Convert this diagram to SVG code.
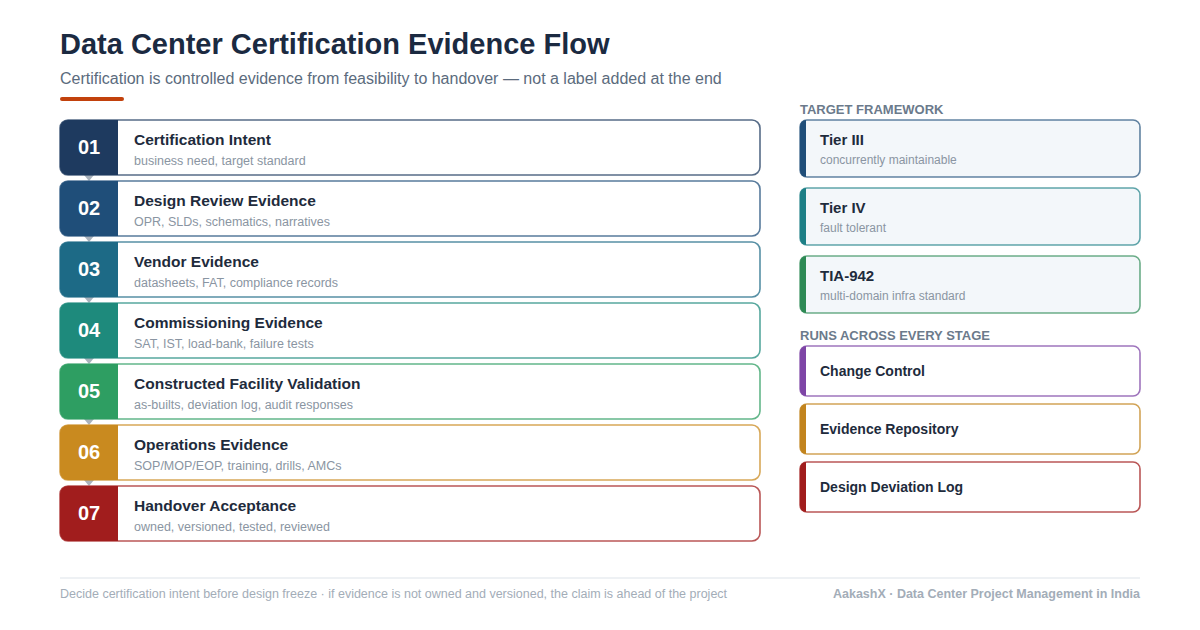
<svg xmlns="http://www.w3.org/2000/svg" width="1200" height="630" viewBox="0 0 1200 630">
<style>
.t{font-family:"Liberation Sans",Arial,sans-serif}
.title{font-size:29px;font-weight:700;fill:#1b2a41}
.sub{font-size:16px;fill:#5b6b7d}
.card{fill:#fff;stroke-width:1.6}
.num{font-size:20px;font-weight:700;fill:#fff;text-anchor:middle}
.h{font-size:15.5px;font-weight:700;fill:#1e2b3c}
.hr{font-size:15px;font-weight:700;fill:#1e2b3c}
.hs{font-size:14px;font-weight:700;fill:#1e2b3c}
.d{font-size:12.5px;fill:#8a95a2}
.dr{font-size:12px;fill:#8a95a2}
.sec{font-size:13px;font-weight:700;fill:#6b7a8b}
.rc{fill:#f3f7fa;stroke-width:1.6}
.rw{fill:#fff;stroke-width:1.6}
.foot{font-size:12.5px;fill:#a3adb8}
.footb{font-size:12.5px;font-weight:700;fill:#a3adb8}
.tri{fill:#a9b2bc}
</style>
<rect width="1200" height="630" fill="#fff"/>
<text class="t title" x="60" y="54">Data Center Certification Evidence Flow</text>
<text class="t sub" x="60" y="84">Certification is controlled evidence from feasibility to handover — not a label added at the end</text>
<rect x="60" y="97" width="64" height="4" rx="2" fill="#c2410c"/>

<g id="connectors">
<path class="tri" d="M84 175 L94 175 L89 181 Z"/>
<path class="tri" d="M84 236 L94 236 L89 242 Z"/>
<path class="tri" d="M84 297 L94 297 L89 303 Z"/>
<path class="tri" d="M84 358 L94 358 L89 364 Z"/>
<path class="tri" d="M84 419 L94 419 L89 425 Z"/>
<path class="tri" d="M84 480 L94 480 L89 486 Z"/>
</g>

<g id="step1">
<rect class="card" x="60" y="120" width="700" height="55" rx="8" stroke="#1e3a5f" stroke-opacity="0.75"/>
<path d="M68 120 H118 V175 H68 A8 8 0 0 1 60 167 V128 A8 8 0 0 1 68 120 Z" fill="#1e3a5f"/>
<text class="t num" x="89" y="154">01</text>
<text class="t h" x="134" y="145">Certification Intent</text>
<text class="t d" x="134" y="165">business need, target standard</text>
</g>
<g id="step2">
<rect class="card" x="60" y="181" width="700" height="55" rx="8" stroke="#1f4e79" stroke-opacity="0.75"/>
<path d="M68 181 H118 V236 H68 A8 8 0 0 1 60 228 V189 A8 8 0 0 1 68 181 Z" fill="#1f4e79"/>
<text class="t num" x="89" y="215">02</text>
<text class="t h" x="134" y="206">Design Review Evidence</text>
<text class="t d" x="134" y="226">OPR, SLDs, schematics, narratives</text>
</g>
<g id="step3">
<rect class="card" x="60" y="242" width="700" height="55" rx="8" stroke="#1d6a86" stroke-opacity="0.75"/>
<path d="M68 242 H118 V297 H68 A8 8 0 0 1 60 289 V250 A8 8 0 0 1 68 242 Z" fill="#1d6a86"/>
<text class="t num" x="89" y="276">03</text>
<text class="t h" x="134" y="267">Vendor Evidence</text>
<text class="t d" x="134" y="287">datasheets, FAT, compliance records</text>
</g>
<g id="step4">
<rect class="card" x="60" y="303" width="700" height="55" rx="8" stroke="#1e8a7c" stroke-opacity="0.75"/>
<path d="M68 303 H118 V358 H68 A8 8 0 0 1 60 350 V311 A8 8 0 0 1 68 303 Z" fill="#1e8a7c"/>
<text class="t num" x="89" y="337">04</text>
<text class="t h" x="134" y="328">Commissioning Evidence</text>
<text class="t d" x="134" y="348">SAT, IST, load-bank, failure tests</text>
</g>
<g id="step5">
<rect class="card" x="60" y="364" width="700" height="55" rx="8" stroke="#2e9e62" stroke-opacity="0.75"/>
<path d="M68 364 H118 V419 H68 A8 8 0 0 1 60 411 V372 A8 8 0 0 1 68 364 Z" fill="#2e9e62"/>
<text class="t num" x="89" y="398">05</text>
<text class="t h" x="134" y="389">Constructed Facility Validation</text>
<text class="t d" x="134" y="409">as-builts, deviation log, audit responses</text>
</g>
<g id="step6">
<rect class="card" x="60" y="425" width="700" height="55" rx="8" stroke="#c98a1f" stroke-opacity="0.75"/>
<path d="M68 425 H118 V480 H68 A8 8 0 0 1 60 472 V433 A8 8 0 0 1 68 425 Z" fill="#c98a1f"/>
<text class="t num" x="89" y="459">06</text>
<text class="t h" x="134" y="450">Operations Evidence</text>
<text class="t d" x="134" y="470">SOP/MOP/EOP, training, drills, AMCs</text>
</g>
<g id="step7">
<rect class="card" x="60" y="486" width="700" height="55" rx="8" stroke="#a11d1d" stroke-opacity="0.75"/>
<path d="M68 486 H118 V541 H68 A8 8 0 0 1 60 533 V494 A8 8 0 0 1 68 486 Z" fill="#a11d1d"/>
<text class="t num" x="89" y="520">07</text>
<text class="t h" x="134" y="511">Handover Acceptance</text>
<text class="t d" x="134" y="531">owned, versioned, tested, reviewed</text>
</g>

<text class="t sec" x="800" y="114">TARGET FRAMEWORK</text>
<g id="tier3">
<rect class="rc" x="800" y="120" width="340" height="57" rx="7" stroke="#1f4e79" stroke-opacity="0.7"/>
<path d="M806 120 V177 A6 6 0 0 1 800 171 V126 A6 6 0 0 1 806 120 Z" fill="#1f4e79"/>
<text class="t hr" x="820" y="145">Tier III</text>
<text class="t dr" x="820" y="164">concurrently maintainable</text>
</g>
<g id="tier4">
<rect class="rc" x="800" y="188" width="340" height="57" rx="7" stroke="#1d7f86" stroke-opacity="0.7"/>
<path d="M806 188 V245 A6 6 0 0 1 800 239 V194 A6 6 0 0 1 806 188 Z" fill="#1d7f86"/>
<text class="t hr" x="820" y="213">Tier IV</text>
<text class="t dr" x="820" y="232">fault tolerant</text>
</g>
<g id="tia942">
<rect class="rc" x="800" y="256" width="340" height="57" rx="7" stroke="#2e8a55" stroke-opacity="0.7"/>
<path d="M806 256 V313 A6 6 0 0 1 800 307 V262 A6 6 0 0 1 806 256 Z" fill="#2e8a55"/>
<text class="t hr" x="820" y="281">TIA-942</text>
<text class="t dr" x="820" y="300">multi-domain infra standard</text>
</g>

<text class="t sec" x="800" y="340">RUNS ACROSS EVERY STAGE</text>
<g id="change">
<rect class="rw" x="800" y="346" width="340" height="50" rx="7" stroke="#7e45a6" stroke-opacity="0.75"/>
<path d="M806 346 V396 A6 6 0 0 1 800 390 V352 A6 6 0 0 1 806 346 Z" fill="#7e45a6"/>
<text class="t hs" x="820" y="376">Change Control</text>
</g>
<g id="repo">
<rect class="rw" x="800" y="404" width="340" height="50" rx="7" stroke="#c2841e" stroke-opacity="0.75"/>
<path d="M806 404 V454 A6 6 0 0 1 800 448 V410 A6 6 0 0 1 806 404 Z" fill="#c2841e"/>
<text class="t hs" x="820" y="434">Evidence Repository</text>
</g>
<g id="deviation">
<rect class="rw" x="800" y="462" width="340" height="50" rx="7" stroke="#a11d1d" stroke-opacity="0.75"/>
<path d="M806 462 V512 A6 6 0 0 1 800 506 V468 A6 6 0 0 1 806 462 Z" fill="#a11d1d"/>
<text class="t hs" x="820" y="492">Design Deviation Log</text>
</g>

<line x1="60" y1="578" x2="1140" y2="578" stroke="#e8ecf0" stroke-width="1.5"/>
<text class="t foot" x="60" y="598">Decide certification intent before design freeze · if evidence is not owned and versioned, the claim is ahead of the project</text>
<text class="t footb" x="1140" y="598" text-anchor="end">AakashX · Data Center Project Management in India</text>
</svg>
